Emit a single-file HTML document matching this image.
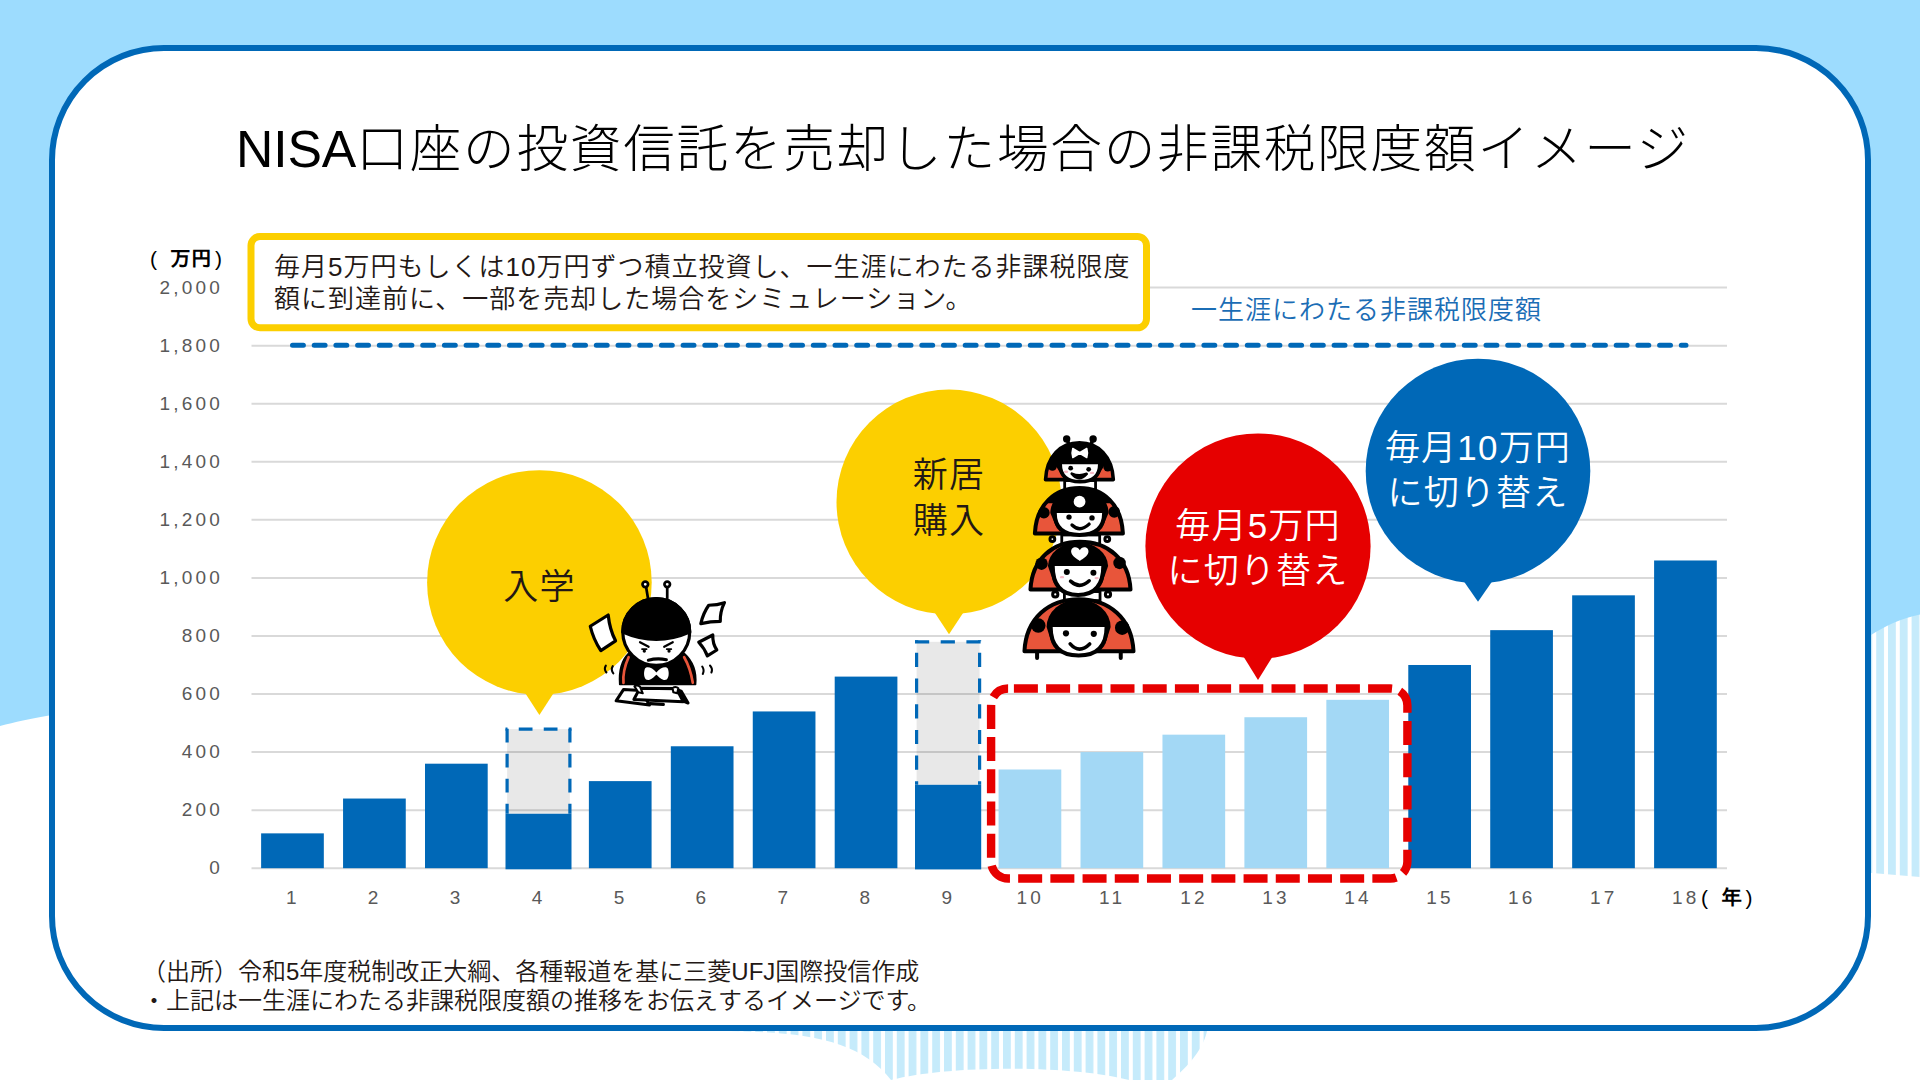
<!DOCTYPE html>
<html lang="ja">
<head>
<meta charset="utf-8">
<title>NISA口座の投資信託を売却した場合の非課税限度額イメージ</title>
<style>
html,body{margin:0;padding:0;background:#fff;}
body{width:1920px;height:1080px;overflow:hidden;position:relative;}
svg{position:absolute;left:0;top:0;display:block;}
text{font-family:"Liberation Sans","Noto Sans CJK JP",sans-serif;}
.ax{font-family:"Liberation Sans","IPAGothic",sans-serif;font-size:19px;fill:#595959;letter-spacing:3.2px;}
.axb{font-family:"Liberation Sans","IPAGothic",sans-serif;font-size:21px;font-weight:bold;fill:#000;}
.title{font-size:51.7px;font-weight:300;fill:#000;letter-spacing:1.7px;}
.body{font-size:26px;font-weight:350;fill:#231815;letter-spacing:1px;}
.note{font-size:24px;font-weight:350;fill:#231815;}
.lim{font-size:26px;font-weight:350;fill:#1b6db5;letter-spacing:1px;}
.bub{font-size:35px;font-weight:350;letter-spacing:1.2px;}
</style>
</head>
<body>
<svg width="1920" height="1080" viewBox="0 0 1920 1080">

<defs>
<pattern id="stripes" width="11.8" height="40" patternUnits="userSpaceOnUse"><rect width="11.8" height="40" fill="#fff"/><rect x="0" width="7.8" height="40" fill="#c6ebfb"/></pattern>
</defs>
<rect width="1920" height="1080" fill="#fff"/>
<path d="M1860 600 H1920 V877 L1860 872 Z" fill="url(#stripes)"/>
<path d="M716 1020 V1031 C805 1031 860 1040 891 1080 C950 1065 1070 1065 1129 1080 L1172 1080 C1195 1060 1204 1045 1207 1031 V1020 Z" fill="url(#stripes)"/>
<path d="M0 0 H1920 V614.5 C1900 619 1885 626 1871 635 C1700 720 1500 760 1200 700 C800 620 300 650 49 715.5 C30 719 15 722 0 726 Z" fill="#9ddcfe"/>
<rect x="52" y="48" width="1816" height="980" rx="112" ry="112" fill="#fff" stroke="#0068b7" stroke-width="6"/>
<text class="title" x="236" y="167.2"><tspan letter-spacing="-0.1">NISA</tspan>口座の投資信託を売却した場合の非課税限度額イメージ</text>
<line x1="251.5" x2="1727" y1="868.2" y2="868.2" stroke="#d9d9d9" stroke-width="2"/>
<line x1="251.5" x2="1727" y1="810.14" y2="810.14" stroke="#d9d9d9" stroke-width="2"/>
<line x1="251.5" x2="1727" y1="752.08" y2="752.08" stroke="#d9d9d9" stroke-width="2"/>
<line x1="251.5" x2="1727" y1="694.02" y2="694.02" stroke="#d9d9d9" stroke-width="2"/>
<line x1="251.5" x2="1727" y1="635.96" y2="635.96" stroke="#d9d9d9" stroke-width="2"/>
<line x1="251.5" x2="1727" y1="577.9" y2="577.9" stroke="#d9d9d9" stroke-width="2"/>
<line x1="251.5" x2="1727" y1="519.84" y2="519.84" stroke="#d9d9d9" stroke-width="2"/>
<line x1="251.5" x2="1727" y1="461.78" y2="461.78" stroke="#d9d9d9" stroke-width="2"/>
<line x1="251.5" x2="1727" y1="403.72" y2="403.72" stroke="#d9d9d9" stroke-width="2"/>
<line x1="251.5" x2="1727" y1="345.66" y2="345.66" stroke="#d9d9d9" stroke-width="2"/>
<line x1="251.5" x2="1727" y1="287.6" y2="287.6" stroke="#d9d9d9" stroke-width="2"/>
<text class="ax" x="223" y="874.4" text-anchor="end">0</text>
<text class="ax" x="223" y="816.34" text-anchor="end">200</text>
<text class="ax" x="223" y="758.28" text-anchor="end">400</text>
<text class="ax" x="223" y="700.22" text-anchor="end">600</text>
<text class="ax" x="223" y="642.16" text-anchor="end">800</text>
<text class="ax" x="223" y="584.1" text-anchor="end">1,000</text>
<text class="ax" x="223" y="526.04" text-anchor="end">1,200</text>
<text class="ax" x="223" y="467.98" text-anchor="end">1,400</text>
<text class="ax" x="223" y="409.92" text-anchor="end">1,600</text>
<text class="ax" x="223" y="351.86" text-anchor="end">1,800</text>
<text class="ax" x="223" y="293.8" text-anchor="end">2,000</text>
<text class="axb" x="150" y="265.5"><tspan font-weight="400">(</tspan><tspan dx="13">万円</tspan><tspan dx="3" font-weight="400">)</tspan></text>
<rect x="261.12" y="833.36" width="62.7" height="34.84" fill="#0068b7"/>
<rect x="343.06" y="798.53" width="62.7" height="69.67" fill="#0068b7"/>
<rect x="425" y="763.69" width="62.7" height="104.51" fill="#0068b7"/>
<rect x="588.88" y="781.11" width="62.7" height="87.09" fill="#0068b7"/>
<rect x="670.82" y="746.27" width="62.7" height="121.93" fill="#0068b7"/>
<rect x="752.76" y="711.44" width="62.7" height="156.76" fill="#0068b7"/>
<rect x="834.7" y="676.6" width="62.7" height="191.6" fill="#0068b7"/>
<rect x="998.58" y="769.5" width="62.7" height="98.7" fill="#a3d8f5"/>
<rect x="1080.52" y="752.08" width="62.7" height="116.12" fill="#a3d8f5"/>
<rect x="1162.46" y="734.66" width="62.7" height="133.54" fill="#a3d8f5"/>
<rect x="1244.4" y="717.24" width="62.7" height="150.96" fill="#a3d8f5"/>
<rect x="1326.34" y="699.83" width="62.7" height="168.37" fill="#a3d8f5"/>
<rect x="1408.28" y="664.99" width="62.7" height="203.21" fill="#0068b7"/>
<rect x="1490.22" y="630.15" width="62.7" height="238.05" fill="#0068b7"/>
<rect x="1572.16" y="595.32" width="62.7" height="272.88" fill="#0068b7"/>
<rect x="1654.1" y="560.48" width="62.7" height="307.72" fill="#0068b7"/>
<rect x="507.1" y="729.1" width="62.8" height="84.65" fill="#000" fill-opacity="0.09"/>
<path d="M505.5 729.1 H571.5" fill="none" stroke="#0068b7" stroke-width="3.2" stroke-dasharray="13.75 11.25" stroke-dashoffset="11.75"/>
<path d="M507.1 727.5 V813.75 M569.9 727.5 V813.75" fill="none" stroke="#0068b7" stroke-width="3.2" stroke-dasharray="13.75 11.25" stroke-dashoffset="23.75"/>
<rect x="505.5" y="813.75" width="66" height="55.55" fill="#0068b7"/>
<rect x="916.6" y="641.8" width="63" height="143" fill="#000" fill-opacity="0.09"/>
<path d="M915 641.8 H981.2" fill="none" stroke="#0068b7" stroke-width="3.2" stroke-dasharray="14.2 11.5" stroke-dashoffset="0"/>
<path d="M916.6 640.2 V784.8 M979.6 640.2 V784.8" fill="none" stroke="#0068b7" stroke-width="3.2" stroke-dasharray="14.2 11.5" stroke-dashoffset="13.1"/>
<rect x="915" y="784.8" width="66.2" height="84.6" fill="#0068b7"/>
<text class="ax" x="292.77" y="904" text-anchor="middle">1</text>
<text class="ax" x="374.71" y="904" text-anchor="middle">2</text>
<text class="ax" x="456.65" y="904" text-anchor="middle">3</text>
<text class="ax" x="538.59" y="904" text-anchor="middle">4</text>
<text class="ax" x="620.53" y="904" text-anchor="middle">5</text>
<text class="ax" x="702.47" y="904" text-anchor="middle">6</text>
<text class="ax" x="784.41" y="904" text-anchor="middle">7</text>
<text class="ax" x="866.35" y="904" text-anchor="middle">8</text>
<text class="ax" x="948.29" y="904" text-anchor="middle">9</text>
<text class="ax" x="1030.23" y="904" text-anchor="middle">10</text>
<text class="ax" x="1112.17" y="904" text-anchor="middle">11</text>
<text class="ax" x="1194.11" y="904" text-anchor="middle">12</text>
<text class="ax" x="1276.05" y="904" text-anchor="middle">13</text>
<text class="ax" x="1357.99" y="904" text-anchor="middle">14</text>
<text class="ax" x="1439.93" y="904" text-anchor="middle">15</text>
<text class="ax" x="1521.87" y="904" text-anchor="middle">16</text>
<text class="ax" x="1603.81" y="904" text-anchor="middle">17</text>
<text class="ax" x="1685.75" y="904" text-anchor="middle">18</text>
<text class="axb" x="1701" y="905"><tspan font-weight="400">(</tspan><tspan dx="13">年</tspan><tspan dx="3.5" font-weight="400">)</tspan></text>
<line x1="292.5" x2="1686" y1="345.3" y2="345.3" stroke="#0068b7" stroke-width="5" stroke-linecap="round" stroke-dasharray="10.9 10.8"/>
<text class="lim" x="1191" y="319">一生涯にわたる非課税限度額</text>
<rect x="251" y="236.5" width="895.5" height="91.3" rx="9" ry="9" fill="#fff" stroke="#fccf00" stroke-width="7"/>
<text class="body" x="274" y="275.5">毎月5万円もしくは10万円ずつ積立投資し、一生涯にわたる非課税限度</text>
<text class="body" x="274" y="308">額に到達前に、一部を売却した場合をシミュレーション。</text>
<rect x="991.1" y="688.5" width="416.3" height="190" rx="17" ry="17" fill="none" stroke="#e60000" stroke-width="8.4" stroke-dasharray="24 8.2" stroke-dashoffset="26.4"/>
<path d="M1461 577.3 L1478 601.7 L1495 577.3 Z" fill="#0068b7"/>
<circle cx="1478" cy="471" r="112.3" fill="#0068b7"/>
<text class="bub" x="1478" y="459.5" text-anchor="middle" fill="#fff">毎月10万円</text>
<text class="bub" x="1478" y="504.5" text-anchor="middle" fill="#fff">に切り替え</text>
<path d="M1241 652.6 L1258 680 L1275 652.6 Z" fill="#e60000"/>
<circle cx="1258" cy="546" r="112.6" fill="#e60000"/>
<text class="bub" x="1258" y="537.5" text-anchor="middle" fill="#fff">毎月5万円</text>
<text class="bub" x="1258" y="583" text-anchor="middle" fill="#fff">に切り替え</text>
<path d="M522.4 688.8 L539.4 715 L556.4 688.8 Z" fill="#fccf00"/>
<circle cx="539.4" cy="582.5" r="112.3" fill="#fccf00"/>
<text class="bub" x="539.4" y="599.2" text-anchor="middle" fill="#231815">入学</text>
<path d="M932 608.5 L949 634.2 L966 608.5 Z" fill="#fccf00"/>
<circle cx="949" cy="502" r="112.5" fill="#fccf00"/>
<text class="bub" x="949" y="486.8" text-anchor="middle" fill="#231815">新居</text>
<text class="bub" x="949" y="532.8" text-anchor="middle" fill="#231815">購入</text>
<g transform="translate(580 570) scale(0.138889)" stroke-linejoin="round" stroke-linecap="round">
<path d="M74 405 L203 324 Q214 430 256 510 L150 580 Q96 500 74 405 Z" fill="#fff" stroke="#000" stroke-width="23"/>
<path d="M927 254 Q990 252 1040 235 Q1008 300 1010 370 Q940 370 870 386 Q887 310 927 254 Z" fill="#fff" stroke="#000" stroke-width="23"/>
<path d="M855 520 L956 468 Q954 530 985 576 L917 618 Q897 565 855 520 Z" fill="#fff" stroke="#000" stroke-width="23"/>
<path d="M186 688 Q170 712 190 738 M236 692 Q220 718 240 744 M880 695 Q898 722 884 748 M936 688 Q958 712 946 738" fill="none" stroke="#000" stroke-width="14.9"/>
<path d="M476 122 L492 220 M628 122 L628 220" fill="none" stroke="#000" stroke-width="19.5"/>
<circle cx="470" cy="103" r="20" fill="#fff" stroke="#000" stroke-width="19.5"/>
<circle cx="628" cy="103" r="20" fill="#fff" stroke="#000" stroke-width="19.5"/>
<path d="M314 860 L260 942 L500 972 L440 868 Z" fill="#fff" stroke="#000" stroke-width="21.8"/>
<path d="M700 862 L748 946 L778 958 L728 872 Z" fill="#fff" stroke="#000" stroke-width="21.8"/>
<path d="M505 962 L600 968" fill="none" stroke="#000" stroke-width="23"/>
<path d="M430 852 L388 932 L744 948 L694 854 Z" fill="#fff" stroke="#000" stroke-width="21.8"/>
<path d="M286 824 C278 720 305 645 350 600 L750 600 C800 645 842 720 832 824 Z" fill="#000" stroke="#000" stroke-width="11.5"/>
<path d="M350 628 C322 690 308 750 313 812 M750 628 C786 690 802 750 812 812" fill="none" stroke="#e8553a" stroke-width="19.5"/>
<path d="M392 838 Q410 822 432 840 L452 888 L420 880 Z" fill="#fff" stroke="#000" stroke-width="14.9"/>
<path d="M666 850 Q690 834 708 852 L700 888 L672 880 Z" fill="#fff" stroke="#000" stroke-width="14.9"/>
<circle cx="549" cy="446" r="241" fill="#fff" stroke="#000" stroke-width="23"/>
<path d="M308 446 A241 241 0 0 1 790 446 Q549 552 308 446 Z" fill="#000" stroke="#000" stroke-width="23"/>
<path d="M432 520 L494 553 M668 520 L606 553" fill="none" stroke="#000" stroke-width="16.1"/>
<path d="M446 570 L480 570 M624 570 L658 570" fill="none" stroke="#000" stroke-width="11.5"/>
<circle cx="463" cy="584" r="12" fill="#000"/><circle cx="641" cy="584" r="12" fill="#000"/>
<path d="M492 650 Q556 632 622 646" fill="none" stroke="#000" stroke-width="21.8"/>
<path d="M550 738 C520 700 475 690 466 714 C456 745 462 780 480 791 C505 798 530 772 550 754 C570 772 595 798 620 791 C638 780 644 745 634 714 C625 690 580 700 550 738 Z" fill="#fff"/>
</g>
<rect x="1064.67" y="480.56" width="30.89" height="8.89" fill="#fff" stroke="#000" stroke-width="2.8"/>
<g stroke-linejoin="round" stroke-linecap="round">
<path d="M1066.67 438.89 L1070.56 448.33" stroke="#000" stroke-width="3.6" fill="none"/>
<circle cx="1066.67" cy="438.89" r="3.7" fill="#000"/>
<path d="M1093.11 438.89 L1089.56 448.33" stroke="#000" stroke-width="3.6" fill="none"/>
<circle cx="1093.11" cy="438.89" r="3.7" fill="#000"/>
<path d="M1045.56 479.67 C1046.57 456.06 1060.81 442.78 1079.44 442.78 C1098.08 442.78 1112.32 456.06 1113.33 479.67 Z" fill="#e8553a" stroke="#000" stroke-width="3.6"/>
<clipPath id="bc2"><rect x="1039.56" y="436.78" width="79.78" height="28.44"/></clipPath>
<path d="M1045.56 479.67 C1046.57 456.06 1060.81 442.78 1079.44 442.78 C1098.08 442.78 1112.32 456.06 1113.33 479.67 Z" fill="#000" clip-path="url(#bc2)"/>
<circle cx="1052.44" cy="466.33" r="4.44" fill="#000"/>
<circle cx="1107.78" cy="467" r="4.44" fill="#000"/>
<path d="M1054.89 464.22 A25.11 21.44 0 0 1 1105.11 464.22 L1098.79 474.69 L1061.21 474.69 Z" fill="#000"/>
<path d="M1060.22 464.22 C1060.22 476.78 1067.74 481.67 1080 481.67 C1092.26 481.67 1099.78 476.78 1099.78 464.22 Z" fill="#fff"/>
<path d="M1060.22 464.22 C1060.22 476.78 1067.74 481.67 1080 481.67 C1092.26 481.67 1099.78 476.78 1099.78 464.22" fill="none" stroke="#000" stroke-width="3.6"/>
<ellipse cx="1066.11" cy="471.78" rx="2.2" ry="1.2" fill="#f7b9c6"/>
<ellipse cx="1092" cy="472.89" rx="2.2" ry="1.2" fill="#f7b9c6"/>
<circle cx="1070.67" cy="468.22" r="2.4" fill="#000"/>
<circle cx="1088.67" cy="469.33" r="2.4" fill="#000"/>
<path d="M1071.78 473.67 Q1079 482.44 1086.67 473.89 Q1079.11 476.78 1071.78 473.67 Z" fill="#000" stroke="#000" stroke-width="2.72"/>
<path d="M1080.28 453 l-7.5 -4.5 q-1.5 4.5 0 9 z M1079.28 453 l7.5 -4.5 q1.5 4.5 0 9 z" fill="#fff" stroke="#fff" stroke-width="1.5" stroke-linejoin="round"/>
</g>
<rect x="1061.76" y="535" width="37.92" height="9.03" fill="#fff" stroke="#000" stroke-width="2.8"/>
<circle cx="1052.37" cy="539.09" r="2.4" fill="#fff" stroke="#000" stroke-width="3"/>
<circle cx="1107.27" cy="539.09" r="2.4" fill="#fff" stroke="#000" stroke-width="3"/>
<g stroke-linejoin="round" stroke-linecap="round">
<path d="M1034.89 533.44 C1036.23 504.43 1054.94 488.11 1079.44 488.11 C1103.34 488.11 1121.59 504.43 1122.89 533.44 Z" fill="#e8553a" stroke="#000" stroke-width="4"/>
<clipPath id="bc1"><rect x="1028.89" y="482.11" width="100" height="21.22"/></clipPath>
<path d="M1034.89 533.44 C1036.23 504.43 1054.94 488.11 1079.44 488.11 C1103.34 488.11 1121.59 504.43 1122.89 533.44 Z" fill="#000" clip-path="url(#bc1)"/>
<circle cx="1043.89" cy="512.78" r="5.78" fill="#000"/>
<circle cx="1114.22" cy="511.89" r="5.78" fill="#000"/>
<path d="M1050.33 513.11 A29.11 25 0 0 1 1108.56 513.11 L1102.88 526.24 L1056.01 526.24 Z" fill="#000"/>
<path d="M1054.78 513.11 C1054.78 528.87 1064.15 535 1079.44 535 C1094.74 535 1104.11 528.87 1104.11 513.11 Z" fill="#fff"/>
<path d="M1054.78 513.11 C1054.78 528.87 1064.15 535 1079.44 535 C1094.74 535 1104.11 528.87 1104.11 513.11" fill="none" stroke="#000" stroke-width="4"/>
<circle cx="1069" cy="517.11" r="2.7" fill="#000"/>
<circle cx="1092" cy="517.89" r="2.7" fill="#000"/>
<path d="M1072 525 Q1079.89 532.78 1089.11 524.11" fill="none" stroke="#000" stroke-width="3.3"/>
<circle cx="1079.56" cy="501.67" r="5.9" fill="#fff"/>
</g>
<rect x="1064.41" y="591.58" width="35.63" height="9.03" fill="#fff" stroke="#000" stroke-width="2.8"/>
<circle cx="1055.26" cy="594.47" r="2.6" fill="#fff" stroke="#000" stroke-width="3"/>
<circle cx="1107.99" cy="594.47" r="2.6" fill="#fff" stroke="#000" stroke-width="3"/>
<g stroke-linejoin="round" stroke-linecap="round">
<path d="M1030.46 589.53 C1031.95 559.02 1052.67 541.86 1079.82 541.86 C1107.69 541.86 1128.98 559.02 1130.5 589.53 Z" fill="#e8553a" stroke="#000" stroke-width="4"/>
<circle cx="1041.54" cy="563.65" r="6.26" fill="#000"/>
<circle cx="1119.55" cy="562.93" r="6.26" fill="#000"/>
<path d="M1047.92 566.06 A30.1 24.2 0 0 1 1108.11 566.06 L1102.03 583.39 L1054 583.39 Z" fill="#000"/>
<path d="M1052.74 566.06 C1052.74 586.86 1062.34 594.95 1078.01 594.95 C1093.69 594.95 1103.29 586.86 1103.29 566.06 Z" fill="#fff"/>
<path d="M1052.74 566.06 C1052.74 586.86 1062.34 594.95 1078.01 594.95 C1093.69 594.95 1103.29 586.86 1103.29 566.06" fill="none" stroke="#000" stroke-width="4"/>
<ellipse cx="1062" cy="577.13" rx="2.2" ry="1.2" fill="#f7b9c6"/>
<ellipse cx="1096.67" cy="578.1" rx="2.2" ry="1.2" fill="#f7b9c6"/>
<circle cx="1066.82" cy="571.96" r="3" fill="#000"/>
<circle cx="1093.42" cy="572.68" r="3" fill="#000"/>
<path d="M1070.55 581.11 Q1079.76 589.71 1089.21 580.74" fill="none" stroke="#000" stroke-width="3.5"/>
<path d="M1079.82 550.36 c-2.2 -5 -9.5 -3.5 -8.6 2 c0.8 4 5.5 6.5 8.6 8.6 c3.1 -2.1 7.8 -4.6 8.6 -8.6 c0.9 -5.5 -6.4 -7 -8.6 -2 z" fill="#fff"/>
</g>
<g stroke-linejoin="round" stroke-linecap="round">
<path d="M1037.09 651.29 L1037.09 658.03" stroke="#000" stroke-width="4" fill="none"/>
<path d="M1120.75 651.29 L1120.75 658.03" stroke="#000" stroke-width="4" fill="none"/>
<path d="M1024.45 651.29 C1026.08 618 1048.93 599.28 1078.86 599.28 C1108.92 599.28 1131.87 618 1133.51 651.29 Z" fill="#e8553a" stroke="#000" stroke-width="4"/>
<circle cx="1038.29" cy="625.53" r="7.22" fill="#000"/>
<circle cx="1122.19" cy="627.69" r="7.22" fill="#000"/>
<path d="M1046.6 627.09 A32.02 27.81 0 0 1 1110.64 627.09 L1105.15 644.21 L1052.08 644.21 Z" fill="#000"/>
<path d="M1050.69 627.09 C1050.69 647.63 1061.3 655.62 1078.62 655.62 C1095.93 655.62 1106.55 647.63 1106.55 627.09 Z" fill="#fff"/>
<path d="M1050.69 627.09 C1050.69 647.63 1061.3 655.62 1078.62 655.62 C1095.93 655.62 1106.55 647.63 1106.55 627.09" fill="none" stroke="#000" stroke-width="4"/>
<circle cx="1065.98" cy="633.35" r="3.1" fill="#000"/>
<circle cx="1093.78" cy="633.83" r="3.1" fill="#000"/>
<path d="M1070.19 643.94 Q1079.22 654.3 1089.69 643.94" fill="none" stroke="#000" stroke-width="3.6"/>
</g>
<text class="note" x="142" y="980">（出所）令和5年度税制改正大綱、各種報道を基に三菱UFJ国際投信作成</text>
<text class="note" x="142" y="1009">・上記は一生涯にわたる非課税限度額の推移をお伝えするイメージです。</text>
</svg>
</body>
</html>
